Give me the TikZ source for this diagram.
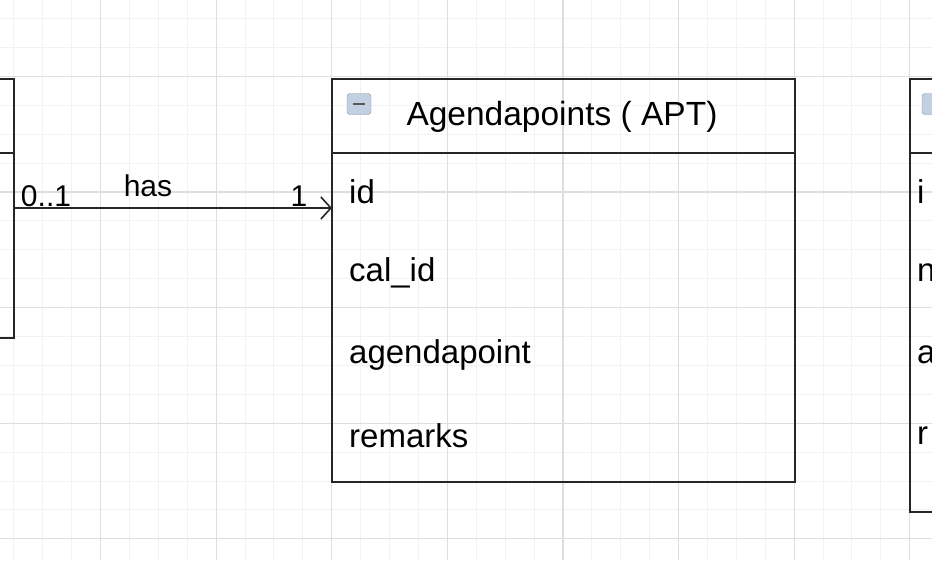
\documentclass[tikz,border=0pt]{standalone}
\usepackage{fontspec}
\setmainfont{Liberation Sans}
\usetikzlibrary{arrows.meta, positioning, calc}
\definecolor{gridminor}{HTML}{F2F2F2}
\definecolor{gridmajor}{HTML}{DEDEDE}
\definecolor{iconblue}{HTML}{C3D0E2}
\tikzset{
  entity/.style={draw=black!85, line width=1.8pt},
  field/.style={font=\fontsize{33}{33}\selectfont, anchor=west, inner sep=0pt},
  mult/.style={font=\fontsize{30}{30}\selectfont, inner sep=0pt},
  toggle/.style={fill=iconblue, draw=iconblue!70!black, rounded corners=3pt, minimum width=24pt, minimum height=21pt, inner sep=0pt}
}
\begin{document}
\begin{tikzpicture}[x=1pt, y=-1pt]
    \useasboundingbox (0,0) rectangle (932,560);
    \clip (0,0) rectangle (932,560);
    \fill[white] (0,0) rectangle (932,560);
    % Grid
    \foreach \k in {-1,...,32}
      \draw[gridminor, line width=1pt] ({100.5+28.9*(\k-4)},0) -- ++(0,560);
    \foreach \k in {-2,...,20}
      \draw[gridminor, line width=1pt] (0,{192+28.9*(\k-4)}) -- ++(932,0);
    \foreach \k in {-1,...,8}
      \draw[gridmajor, line width=1.2pt] ({100.5+115.6*\k},0) -- ++(0,560);
    \foreach \k in {-2,...,4}
      \draw[gridmajor, line width=1.2pt] (0,{192+115.6*\k}) -- ++(932,0);
    % Calendar entity (left, cut off)
    \draw[entity] (-300,79) rectangle (14,338);
    \draw[entity] (-300,153) -- (14,153);
    \coordinate (cal) at (14,208);
    % Agendapoints entity
    \draw[entity] (332,79) rectangle (795,482);
    \draw[entity] (332,153) -- (795,153);
    \node[toggle] (apticon) at (359,104) {};
    \draw[black!65, line width=2.5pt] ([xshift=-6pt]apticon.center) -- ([xshift=6pt]apticon.center);
    \node[font=\fontsize{33.5}{33.5}\selectfont] (apttitle) at (562,117) {Agendapoints ( APT)};
    \node[field] (aptid) at (349,192) {id};
    \node[field] (aptcal) at (349,273) {cal\_id};
    \node[field] (aptpoint) at (349,355) {agendapoint};
    \node[field] (aptrem) at (349,436) {remarks};
    \coordinate (apt) at (332,208);
    % Third entity (right, cut off)
    \draw[entity] (910,79) rectangle (1300,512);
    \draw[entity] (910,153) -- (1300,153);
    \node[toggle] (thricon) at (934,104) {};
    \node[field] (thrid) at (917,192) {i};
    \node[field] (thrb) at (917,273) {n};
    \node[field] (thrc) at (917,355) {a};
    \node[field] (thrd) at (917,436) {r};
    % Relation
    \draw[-{Straight Barb[length=10pt, width=22pt]}, line width=1.6pt, black!85] (cal) -- (apt);
    \node[mult] (multfrom) at (46,196) {0..1};
    \node[mult] (relname) at (148,186) {has};
    \node[mult] (multto) at (299,196) {1};
\end{tikzpicture}
\end{document}
